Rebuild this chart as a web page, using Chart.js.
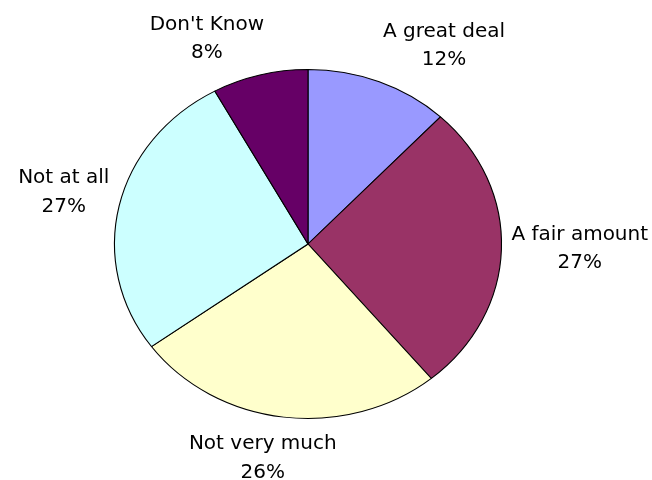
<!DOCTYPE html>
<html>
<head>
<meta charset="utf-8">
<script src="https://cdn.jsdelivr.net/npm/chart.js@4/dist/chart.umd.min.js"></script>
<style>
  html, body { margin: 0; padding: 0; background: #ffffff; }
  #wrap { width: 652px; height: 480px; }
</style>
</head>
<body>
<div id="wrap"><canvas id="c" width="652" height="480"></canvas></div>
<script>
// ---- data ----
const categories = ['A great deal', 'A fair amount', 'Not very much', 'Not at all', "Don't Know"];
const percentValues = [12, 27, 26, 27, 8];
const percentLabels = ['12%', '27%', '26%', '27%', '8%'];

// ---- styles ----
const sliceColors = ['#9999FF', '#993366', '#FFFFCC', '#CCFFFF', '#660066'];
const stretchX = 1.109;          // pie is drawn as an ellipse in the reference
const labelFont = '20px "DejaVu Sans", Verdana, sans-serif';
const lineGap = 28.5;

const ellipsePlugin = {
  id: 'ellipse',
  beforeDatasetsDraw(chart) {
    const arc = chart.getDatasetMeta(0).data[0];
    const ctx = chart.ctx;
    ctx.save();
    ctx.translate(arc.x, arc.y);
    ctx.scale(stretchX, 1);
    ctx.translate(-arc.x, -arc.y);
  },
  afterDatasetsDraw(chart) {
    chart.ctx.restore();
  }
};

const labelPlugin = {
  id: 'outsideLabels',
  afterDraw(chart) {
    const ctx = chart.ctx;
    const meta = chart.getDatasetMeta(0);
    ctx.save();
    ctx.font = labelFont;
    ctx.fillStyle = '#000000';
    ctx.textAlign = 'center';
    ctx.textBaseline = 'alphabetic';
    const capH = 14.6;
    const gx = 10, gy = 17.5;
    meta.data.forEach((arc, i) => {
      const a = (arc.startAngle + arc.endAngle) / 2;
      const ux = Math.cos(a), uy = Math.sin(a);
      const rx = arc.outerRadius * stretchX, ry = arc.outerRadius;
      const ex = arc.x + rx * ux, ey = arc.y + ry * uy;
      const ax = ex + ux * gx, ay = ey + uy * gy;
      const l1 = categories[i], l2 = percentLabels[i];
      const w = Math.max(ctx.measureText(l1).width, ctx.measureText(l2).width);
      const h = capH + lineGap;
      const fx = Math.min(1, Math.max(0, 0.32 - 2.5 * ux));
      const fy = Math.min(1, Math.max(0, 0.6 - 0.8 * uy));
      const left = ax - fx * w;
      const top = ay - fy * h;
      const cx = left + w / 2;
      ctx.fillText(l1, cx, top + capH);
      ctx.fillText(l2, cx, top + capH + lineGap);
    });
    ctx.restore();
  }
};

new Chart(document.getElementById('c'), {
  type: 'pie',
  data: {
    labels: categories,
    datasets: [{
      data: percentValues,
      backgroundColor: sliceColors,
      borderColor: '#000000',
      borderWidth: 1,
      radius: 174.5,
      clip: false
    }]
  },
  options: {
    responsive: false,
    animation: false,
    layout: { padding: { left: 0, right: 36, top: 8, bottom: 0 } },
    plugins: {
      legend: { display: false },
      tooltip: { enabled: false }
    }
  },
  plugins: [ellipsePlugin, labelPlugin]
});
</script>
</body>
</html>
